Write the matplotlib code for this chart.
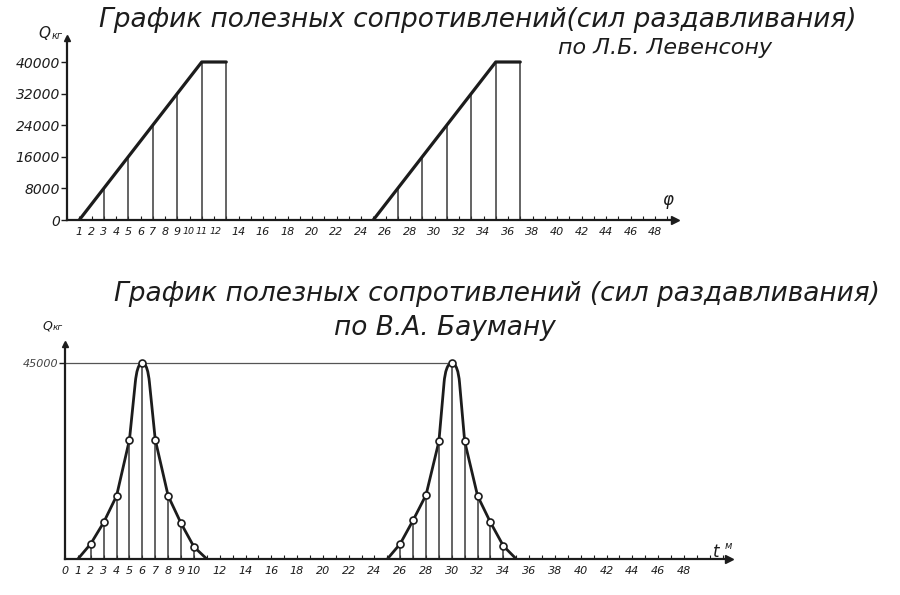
import numpy as np
import matplotlib.pyplot as plt
import matplotlib.transforms as mtransforms
from matplotlib.path import Path
from matplotlib.patches import PathPatch

plt.rcParams['font.family'] = 'DejaVu Sans'
plt.rcParams['font.style'] = 'italic'

INK = '#1c1c1c'
W, H = 900, 595

# Л.Б. Левенсон: сила раздавливания по углу поворота φ
lev_ramp_a_phi = [1, 11, 13]
lev_ramp_a_q = [0, 40000, 40000]
lev_ramp_b_phi = [25, 35, 37]
lev_ramp_b_q = [0, 40000, 40000]
lev_ord_phi = [3, 5, 7, 9, 11, 13, 27, 29, 31, 33, 35, 37]
lev_ord_q = [8000, 16000, 24000, 32000, 40000, 40000,
             8000, 16000, 24000, 32000, 40000, 40000]
lev_yticks = [0, 8000, 16000, 24000, 32000, 40000]
lev_xticks = list(range(1, 13)) + list(range(14, 49, 2))

# В.А. Бауман: ординаты (кружки) по времени t
baum_a_t = [2, 3, 4, 5, 6, 7, 8, 9, 10]
baum_a_q = [3500, 8400, 14500, 27400, 45000, 27400, 14500, 8200, 2800]
baum_b_t = [26, 27, 28, 29, 30, 31, 32, 33, 34]
baum_b_q = [3500, 8900, 14700, 27000, 45000, 27000, 14500, 8400, 3000]
# контур кривой: ординаты плюс начало, конец и плечи у вершины
curve_a_t = [1, 2, 3, 4, 5, 5.45, 6, 6.55, 7, 8, 9, 10, 11]
curve_a_q = [0, 3500, 8400, 14500, 27400, 40500, 45000, 40500, 27400, 14500, 8200, 2800, 0]
curve_b_t = [25, 26, 27, 28, 29, 29.4, 30, 30.6, 31, 32, 33, 34, 35]
curve_b_q = [0, 3500, 8900, 14700, 27000, 40500, 45000, 40500, 27000, 14500, 8400, 3000, 0]
baum_yticks = [45000]
baum_xticks = list(range(0, 11)) + list(range(12, 49, 2))


def px(x, y):
    return x / W, 1 - y / H


def bell_path(xs, ys, r=0.55):
    # ломаная через точки, вершина скруглена кубическими кривыми
    pts = np.column_stack([xs, ys]).astype(float)
    k = int(np.argmax(pts[:, 1]))
    verts = [pts[0]]
    codes = [Path.MOVETO]
    for i in range(1, len(pts)):
        if i == k:
            a, b, c = pts[k - 2], pts[k - 1], pts[k]
            c1 = b + (b - a) * r * (c[1] - b[1]) / (b[1] - a[1])
            c2 = np.array([c[0] - r * (c[0] - b[0]), c[1]])
            verts += [c1, c2, c]
            codes += [Path.CURVE4] * 3
        elif i == k + 1:
            a, b, c = pts[k], pts[k + 1], pts[k + 2]
            c1 = np.array([a[0] + r * (b[0] - a[0]), a[1]])
            c2 = b + (b - c) * r * (a[1] - b[1]) / (b[1] - c[1])
            verts += [c1, c2, b]
            codes += [Path.CURVE4] * 3
        else:
            verts.append(pts[i])
            codes.append(Path.LINETO)
    return Path(verts, codes)


def style_axes(ax, xticks, xmax):
    for s in ['top', 'right']:
        ax.spines[s].set_visible(False)
    for s in ['left', 'bottom']:
        ax.spines[s].set_linewidth(1.6)
        ax.spines[s].set_color(INK)
    ax.set_xticks(xticks)
    ax.set_xticklabels([str(v) for v in xticks], fontsize=8, color=INK)
    ax.set_xticks(np.arange(0, int(xmax) + 1), minor=True)
    ax.tick_params(axis='x', which='both', direction='in', length=3,
                   width=0.8, color=INK, pad=5)
    ax.tick_params(axis='y', direction='out', length=4, width=1,
                   color=INK, pad=1)
    ax.plot(1, 0, '>', color=INK, ms=6, transform=ax.get_yaxis_transform(), clip_on=False)
    ax.plot(0, 1, '^', color=INK, ms=5, transform=ax.get_xaxis_transform(), clip_on=False)


fig = plt.figure(figsize=(9, 5.95), dpi=100)

# верхний график
ax1 = fig.add_axes([67 / W, 1 - 220 / H, 607.6 / W, 181.7 / H])
ax1.set_xlim(0, 49.6)
ax1.set_ylim(0, 46000)
style_axes(ax1, lev_xticks, 49.6)
ax1.set_yticks(lev_yticks)
ax1.set_yticklabels([str(v) for v in lev_yticks], fontsize=10, color=INK)
ax1.vlines(lev_ord_phi, 0, lev_ord_q, color='#3a3a3a', lw=1.1)
ax1.plot(lev_ramp_a_phi, lev_ramp_a_q, color=INK, lw=2.3, solid_capstyle='round')
ax1.plot(lev_ramp_b_phi, lev_ramp_b_q, color=INK, lw=2.3, solid_capstyle='round')

# тесные подписи 10, 11, 12 - мельче и чуть раздвинуты
nudge = {'10': -0.8, '12': 0.8}
for lab in ax1.get_xticklabels():
    if lab.get_text() in ('10', '11', '12'):
        lab.set_fontsize(6.8)
        dx = nudge.get(lab.get_text(), 0) / 72
        lab.set_transform(lab.get_transform() +
                          mtransforms.ScaledTranslation(dx, 0, fig.dpi_scale_trans))

# нижний график
ax2 = fig.add_axes([65 / W, 36 / H, 664 / W, 214.7 / H])
ax2.set_xlim(0, 51.5)
ax2.set_ylim(0, 49300)
style_axes(ax2, baum_xticks, 51.5)
ax2.set_yticks(baum_yticks)
ax2.set_yticklabels([str(v) for v in baum_yticks], fontsize=8, color='#444')
ax2.hlines(baum_yticks[0], 0, baum_b_t[4], color='#555', lw=0.9)
for t, q, ct, cq in [(baum_a_t, baum_a_q, curve_a_t, curve_a_q),
                     (baum_b_t, baum_b_q, curve_b_t, curve_b_q)]:
    ax2.vlines(t, 0, q, color='#3a3a3a', lw=1.1)
    ax2.add_patch(PathPatch(bell_path(ct, cq), fill=False, edgecolor=INK,
                            lw=2.0, joinstyle='round'))
    ax2.plot(t, q, 'o', mfc='white', mec=INK, ms=5, mew=1.2, zorder=5)

# надписи
fig.text(*px(478, 20), 'График полезных сопротивлений(сил раздавливания)',
         fontsize=19, ha='center', va='center', color=INK)
fig.text(*px(665, 48), 'по Л.Б. Левенсону', fontsize=16, ha='center', va='center', color=INK)
fig.text(*px(497, 294), 'График полезных сопротивлений (сил раздавливания)',
         fontsize=19, ha='center', va='center', color=INK)
fig.text(*px(445, 328), 'по В.А. Бауману', fontsize=19, ha='center', va='center', color=INK)

fig.text(*px(44, 33), 'Q', fontsize=11, ha='center', va='center', color=INK)
fig.text(*px(57, 36), 'кг', fontsize=7, ha='center', va='center', color=INK)
fig.text(*px(47, 326), 'Q', fontsize=9, ha='center', va='center', color=INK)
fig.text(*px(58, 328), 'кг', fontsize=6.5, ha='center', va='center', color=INK)
fig.text(*px(668, 200), 'φ', fontsize=12, ha='center', va='center', color=INK)
fig.text(*px(716, 552), 't', fontsize=12, ha='center', va='center', color=INK)
fig.text(*px(728, 546), 'м', fontsize=7, ha='center', va='center', color=INK)

fig.savefig('out.png', dpi=100, facecolor='white')
